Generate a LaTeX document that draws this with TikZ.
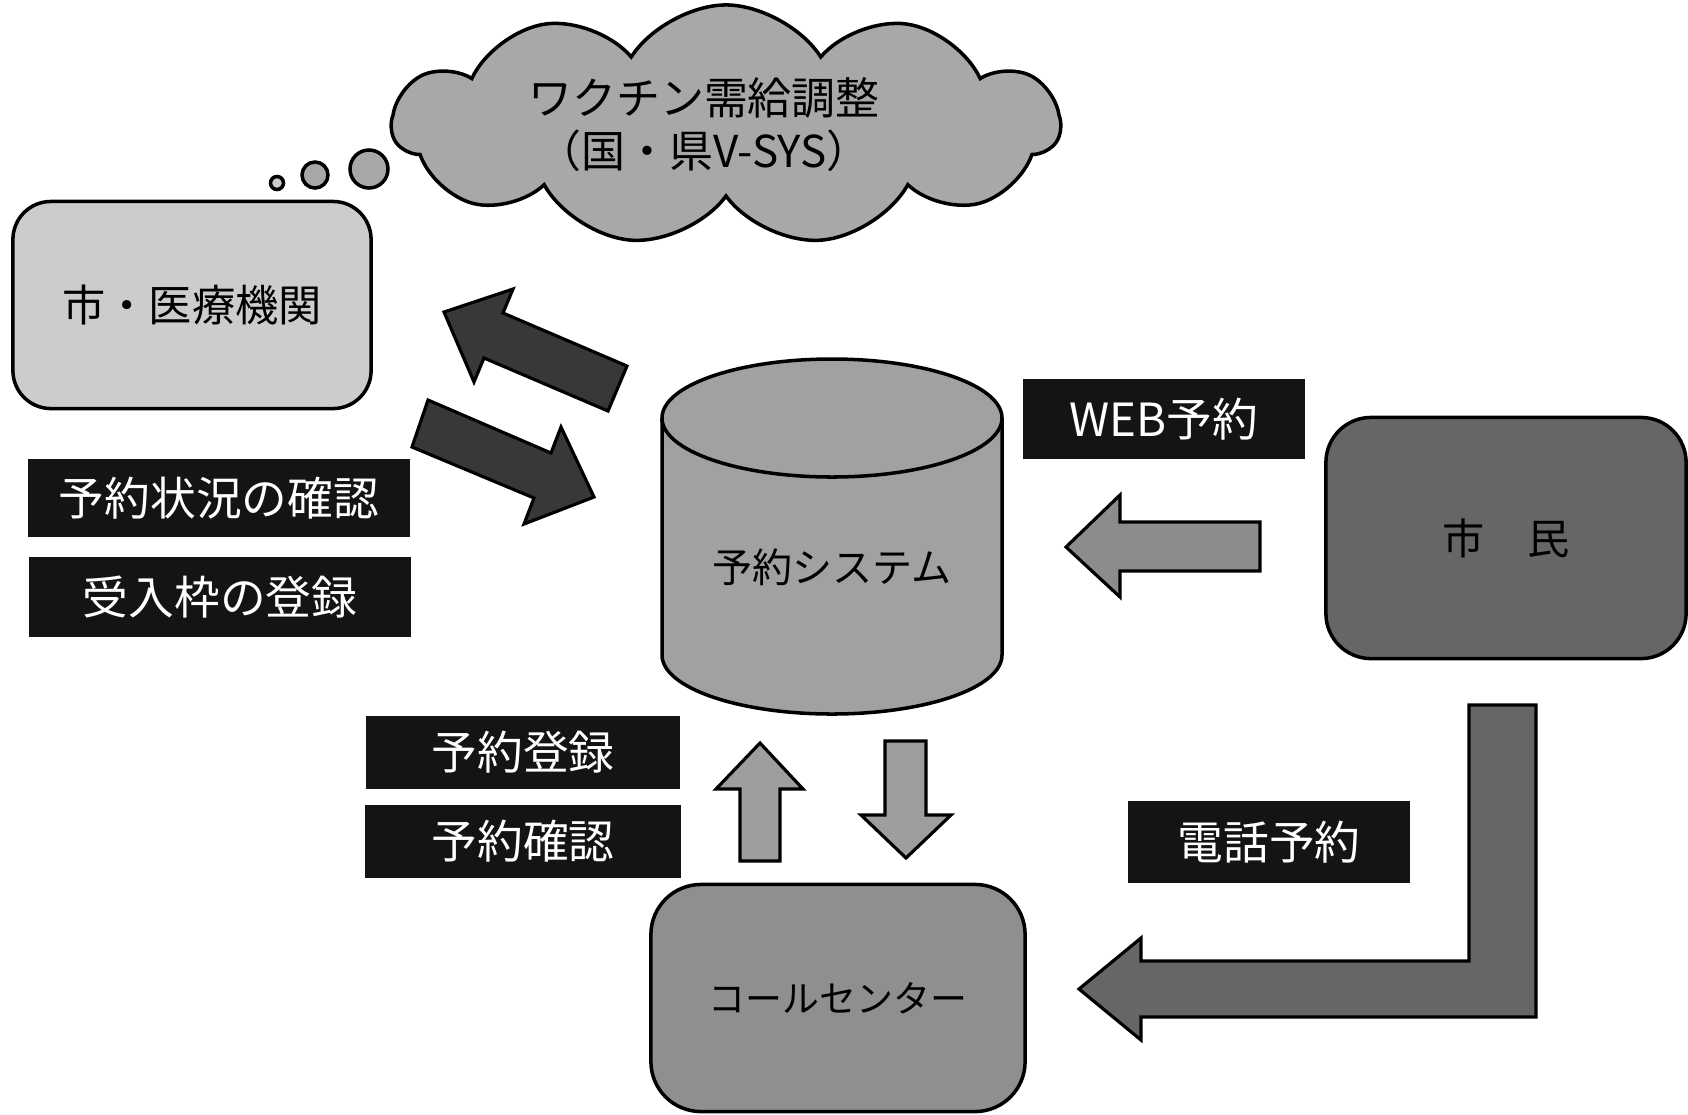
\documentclass[tikz,border=0pt]{standalone}
\usepackage{fontspec}
\setmainfont{Noto Sans CJK JP}
\usetikzlibrary{shapes.symbols}

\definecolor{cloudgray}{gray}{0.66}
\definecolor{citygray}{gray}{0.80}
\definecolor{sysgray}{gray}{0.63}
\definecolor{residentgray}{gray}{0.40}
\definecolor{callgray}{gray}{0.56}
\definecolor{darkarrow}{gray}{0.22}
\definecolor{lightarrow}{gray}{0.62}
\definecolor{webarrow}{gray}{0.55}
\definecolor{telarrow}{gray}{0.40}
\definecolor{labelblack}{gray}{0.08}

\begin{document}
\begin{tikzpicture}[x=0.01cm,y=-0.01cm]
    \tikzstyle{roundBox}=[draw, line width=1pt, inner sep=0pt, text=black]
    \tikzstyle{blackLabel}=[fill=labelblack, text=white, inner sep=0pt, font=\fontsize{13}{15}\selectfont]
    \tikzstyle{blockArrow}=[draw, line width=0.9pt, line join=miter]
    \useasboundingbox (0,0) rectangle (1688,1114);

    % thought cloud
    \node[draw, cloud, cloud puffs=11, cloud puff arc=115, aspect=2.8, fill=cloudgray, line width=1pt, minimum width=6.67cm, minimum height=2.4cm] (vsys) at (726,125) {};
    \node[align=center, font=\fontsize{12.5}{15}\selectfont] (vsysText) at (704,125) {ワクチン需給調整\\（国・県V-SYS）};
    \draw[line width=1pt, fill=cloudgray!60] (277,183) circle (6.5);
    \draw[line width=1pt, fill=cloudgray] (315,175) circle (13);
    \draw[line width=1pt, fill=cloudgray] (369,169) circle (19);

    \node[roundBox, fill=citygray, rounded corners=0.38cm, minimum width=3.58cm, minimum height=2.07cm, font=\fontsize{12.3}{14}\selectfont] (city) at (192,305) {市・医療機関};
    \node[roundBox, fill=residentgray, rounded corners=0.45cm, minimum width=3.6cm, minimum height=2.41cm, font=\fontsize{12}{14}\selectfont] (resident) at (1506,538) {市　民};
    \node[roundBox, fill=callgray, rounded corners=0.5cm, minimum width=3.74cm, minimum height=2.27cm, font=\fontsize{10.5}{12}\selectfont] (call) at (838,998) {コールセンター};

    % reservation system cylinder
    \fill[sysgray] (662,418) -- (662,655) arc[start angle=180, end angle=0, x radius=170, y radius=59] -- (1002,418) arc[start angle=0, end angle=-180, x radius=170, y radius=59] -- cycle;
    \draw[line width=1pt] (662,418) -- (662,655) arc[start angle=180, end angle=0, x radius=170, y radius=59] -- (1002,418);
    \draw[line width=1pt] (832,418) ellipse [x radius=170, y radius=59];
    \node[font=\fontsize{11.4}{13}\selectfont] (system) at (832,567) {予約システム};

    \node[blackLabel, minimum width=3.81cm, minimum height=0.78cm] (status) at (219,498) {予約状況の確認};
    \node[blackLabel, minimum width=3.82cm, minimum height=0.79cm] (slot) at (220,597) {受入枠の登録};
    \node[blackLabel, minimum width=2.82cm, minimum height=0.8cm] (web) at (1164,419) {WEB予約};
    \node[blackLabel, minimum width=3.14cm, minimum height=0.73cm] (entry) at (523,752) {予約登録};
    \node[blackLabel, minimum width=3.15cm, minimum height=0.73cm] (check) at (523,841) {予約確認};
    \node[blackLabel, minimum width=2.82cm, minimum height=0.82cm] (tel) at (1269,842) {電話予約};

    \draw[blockArrow, fill=darkarrow] (444,312) -- (513,289) -- (503,313) -- (627,366) -- (608,411) -- (484,358) -- (474,382) -- cycle;
    \draw[blockArrow, fill=darkarrow] (594,497) -- (524,524) -- (534,498) -- (412,447) -- (428,400) -- (551,453) -- (561,427) -- cycle;

    \draw[blockArrow, fill=webarrow] (1066,547) -- (1120,495) -- (1120,522) -- (1260,522) -- (1260,571) -- (1120,571) -- (1120,597) -- cycle;

    \draw[blockArrow, fill=lightarrow] (760,743) -- (803,789) -- (780,789) -- (780,861) -- (740,861) -- (740,789) -- (716,789) -- cycle;
    \draw[blockArrow, fill=lightarrow] (906,858) -- (951,815) -- (926,815) -- (926,741) -- (885,741) -- (885,815) -- (861,815) -- cycle;

    \draw[blockArrow, fill=telarrow] (1079,989) -- (1141,938) -- (1141,961) -- (1469,961) -- (1469,705) -- (1536,705) -- (1536,1017) -- (1141,1017) -- (1141,1040) -- cycle;
\end{tikzpicture}
\end{document}
